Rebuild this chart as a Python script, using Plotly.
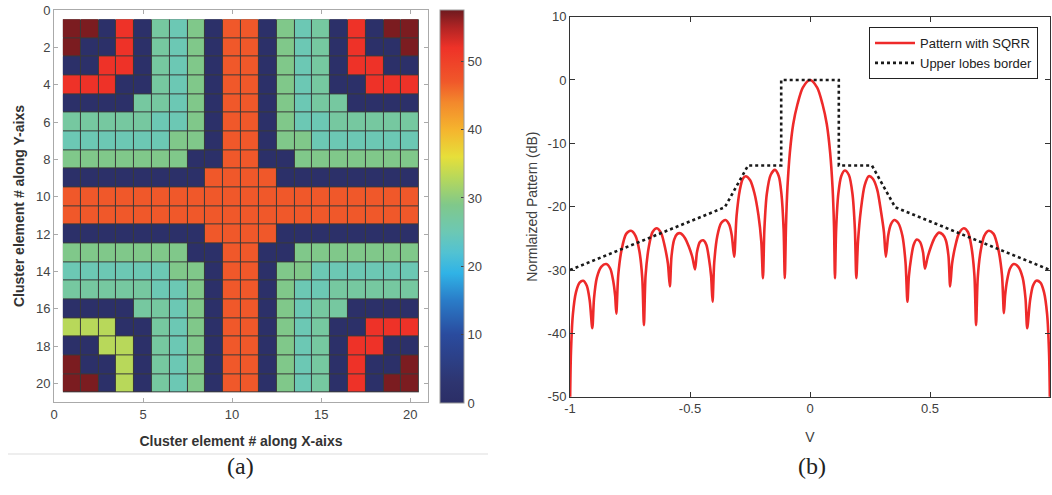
import plotly.graph_objects as go

# ---------------- Data: panel (a) cluster map ----------------
level_codes = ["N", "T", "M", "G", "Y", "O", "R", "D"]
level_values = [1, 25, 27, 29, 33, 47, 52, 57]

cluster_rows = [
    "DDNRNMTGNOONGTMNRNDD",
    "DNNRNMTGNOONGTMNRNND",
    "NNRRNMTGNOONGTMNRRNN",
    "RRRNNMTGNOONGTMNNRRR",
    "NNNNMMTGNOONGTMMNNNN",
    "MMMMMTTGNOONGTTMMMMM",
    "TTTTTTGGNOONGGTTTTTT",
    "GGGGGGGNNOONNGGGGGGG",
    "NNNNNNNNOOOONNNNNNNN",
    "OOOOOOOOOOOOOOOOOOOO",
    "OOOOOOOOOOOOOOOOOOOO",
    "NNNNNNNNOOOONNNNNNNN",
    "GGGGGGGNNOONNGGGGGGG",
    "TTTTTTGGNOONGGTTTTTT",
    "MMMMMTTGNOONGTTMMMMM",
    "NNNNMMTGNOONGTMMNNNN",
    "YYYNNMTGNOONGTMNNRRR",
    "NNYYNMTGNOONGTMNRRNN",
    "DNNYNMTGNOONGTMNRNND",
    "DDNYNMTGNOONGTMNRNDD",
]
x_elements = list(range(1, 21))
y_elements = list(range(1, 21))
cbar_ticks = [0, 10, 20, 30, 40, 50]
xa_ticks = [0, 5, 10, 15, 20]
ya_ticks = [0, 2, 4, 6, 8, 10, 12, 14, 16, 18, 20]

# ---------------- Data: panel (b) pattern ----------------
v_pattern = [
    -1.0, -0.996, -0.988, -0.975, -0.96, -0.945, -0.93, -0.918, -0.907,
    -0.900, -0.888, -0.870, -0.849, -0.832, -0.820, -0.812, -0.807,
    -0.799, -0.785, -0.766, -0.746, -0.727, -0.711, -0.699, -0.692,
    -0.685, -0.671, -0.656, -0.638, -0.620, -0.605, -0.592, -0.584,
    -0.577, -0.566, -0.553, -0.540, -0.522, -0.505, -0.490, -0.479,
    -0.471, -0.459, -0.445, -0.432, -0.421, -0.412, -0.406,
    -0.399, -0.386, -0.370, -0.352, -0.337, -0.326, -0.316,
    -0.306, -0.292, -0.280, -0.268, -0.250, -0.232, -0.215, -0.203, -0.196,
    -0.190, -0.180, -0.164, -0.146, -0.130, -0.119, -0.110, -0.105,
    -0.100, -0.094, -0.084, -0.070, -0.052, -0.030, 0.0,
    0.030, 0.052, 0.070, 0.084, 0.094, 0.100, 0.104,
    0.109, 0.118, 0.130, 0.145, 0.162, 0.177, 0.187, 0.193,
    0.200, 0.212, 0.228, 0.245, 0.262, 0.280, 0.296, 0.308, 0.316,
    0.326, 0.337, 0.351, 0.368, 0.385, 0.398, 0.406,
    0.412, 0.421, 0.432, 0.445, 0.459, 0.471, 0.479,
    0.490, 0.505, 0.521, 0.537, 0.553, 0.566, 0.577, 0.584,
    0.592, 0.605, 0.621, 0.641, 0.658, 0.672, 0.685, 0.692,
    0.699, 0.711, 0.726, 0.745, 0.765, 0.785, 0.800, 0.808,
    0.813, 0.821, 0.833, 0.849, 0.868, 0.886, 0.898, 0.905,
    0.917, 0.929, 0.943, 0.960, 0.975, 0.988, 0.996, 1.0,
]
db_pattern = [
    -52.0, -43.0, -37.0, -33.5, -32.0, -31.7, -32.5, -34.8, -39.2,
    -34.5, -31.2, -29.5, -29.05, -29.8, -31.7, -34.0, -36.9,
    -30.8, -26.8, -24.3, -23.8, -24.6, -27.0, -31.2, -38.7,
    -30.8, -26.2, -24.0, -23.4, -24.2, -26.3, -29.0, -32.6,
    -27.8, -25.2, -24.3, -24.2, -24.9, -26.3, -28.0, -29.9,
    -27.2, -25.6, -25.3, -26.0, -28.2, -31.0, -35.0,
    -28.8, -24.6, -22.6, -22.1, -22.8, -24.5, -27.9,
    -21.5, -17.3, -15.6, -15.2, -15.8, -17.8, -21.3, -25.5, -31.3,
    -23.5, -18.0, -15.0, -14.2, -15.2, -18.0, -23.5, -31.3,
    -23.0, -17.0, -11.5, -7.0, -3.8, -1.2, 0.0,
    -1.2, -3.8, -7.0, -11.5, -17.0, -23.0, -31.3,
    -23.5, -18.0, -15.2, -14.3, -15.0, -18.0, -23.5, -31.3,
    -25.5, -20.5, -16.6, -15.2, -15.6, -17.3, -20.8, -24.0, -27.9,
    -24.5, -22.8, -22.1, -22.6, -24.6, -28.8, -35.0,
    -31.0, -28.2, -26.0, -25.2, -25.6, -27.2, -29.8,
    -28.0, -26.2, -24.8, -24.1, -24.4, -25.3, -27.8, -32.6,
    -29.0, -26.3, -24.2, -23.4, -24.0, -26.2, -30.8, -38.7,
    -31.2, -27.0, -24.6, -23.8, -24.3, -26.8, -30.8, -36.8,
    -34.0, -31.7, -29.8, -29.05, -29.5, -31.2, -34.5, -39.2,
    -34.8, -32.5, -31.7, -32.0, -33.5, -37.0, -43.0, -52.0,
]
v_border = [-1.0, -0.355, -0.258, -0.12, -0.12, 0.12, 0.12, 0.258, 0.355, 1.0]
db_border = [-30.0, -20.1, -13.5, -13.5, 0.0, 0.0, -13.5, -13.5, -20.1, -30.0]
xb_ticks = [-1, -0.5, 0, 0.5, 1]
xb_labels = ["-1", "-0.5", "0", "0.5", "1"]
yb_ticks = [10, 0, -10, -20, -30, -40, -50]
yb_labels = ["10", "0", "-10", "-20", "-30", "-40", "-50"]

# ---------------- Styling ----------------
W, H = 1052, 495
ZMAX = 57.5
scale_pts = [
    (0, "#2B2E66"), (3, "#2E3570"), (10, "#2A4B9E"), (15, "#2A7CC8"),
    (19, "#30B3E6"), (22, "#52C2D2"), (25, "#6CC8B4"), (27, "#76C8A0"),
    (29, "#80C88A"), (33, "#B8D85A"), (36, "#E6DF3A"), (40, "#F5B42E"),
    (44, "#F3882C"), (47, "#F0582A"), (52, "#EE3228"), (55, "#B02424"),
    (57.5, "#6E1A1F"),
]
colorscale = [[v / ZMAX, c] for v, c in scale_pts]

code_to_val = dict(zip(level_codes, level_values))
z = [[code_to_val[ch] for ch in row] for row in cluster_rows]


def px_x(p):
    return p / W


def px_y(p):
    return (H - p) / H


SANS = "Liberation Sans, Arial, sans-serif"
SERIF = "Liberation Serif, Times New Roman, serif"
fig = go.Figure()

# dark background grid (cell borders)
fig.add_trace(go.Heatmap(
    z=[[0] * len(x_elements) for _ in y_elements], x=x_elements, y=y_elements,
    colorscale=[[0, "#3a3a3a"], [1, "#3a3a3a"]], showscale=False,
    xaxis="x", yaxis="y", hoverinfo="skip",
))
fig.add_trace(go.Heatmap(
    z=z, x=x_elements, y=y_elements, zmin=0, zmax=ZMAX,
    colorscale=colorscale, xgap=1, ygap=1, xaxis="x", yaxis="y",
    colorbar=dict(
        x=px_x(440), xanchor="left", thickness=24, thicknessmode="pixels",
        y=px_y((10 + 403) / 2), yanchor="middle", len=393 / H, lenmode="fraction",
        tickvals=cbar_ticks, ticks="inside", ticklen=3, tickcolor="#444",
        outlinewidth=1, outlinecolor="#999", xpad=0, ypad=0,
        tickfont=dict(family=SANS, size=13, color="#444"),
    ),
))

fig.add_trace(go.Scatter(
    x=v_pattern, y=db_pattern, mode="lines", name="Pattern with SQRR",
    line=dict(color="#EE2A2A", width=2.6, shape="spline", smoothing=0.8),
    xaxis="x2", yaxis="y2",
))
fig.add_trace(go.Scatter(
    x=v_border, y=db_border, mode="lines", name="Upper lobes border",
    line=dict(color="#1a1a1a", width=2.6, dash="dot"), xaxis="x2", yaxis="y2",
))

axis_a = dict(showgrid=False, zeroline=False, showline=True, linecolor="#aaaaaa",
              linewidth=1, mirror="allticks", ticks="inside", ticklen=4,
              tickcolor="#aaaaaa", automargin=False,
              tickfont=dict(family=SANS, size=13, color="#444"))
axis_b = dict(showgrid=False, zeroline=False, showline=True, linecolor="#333",
              linewidth=1, mirror="allticks", ticks="inside", ticklen=5,
              tickcolor="#333", automargin=False,
              tickfont=dict(family=SANS, size=13, color="#404040"))

fig.update_layout(
    width=W, height=H, margin=dict(l=0, r=0, t=0, b=0, autoexpand=False),
    paper_bgcolor="white", plot_bgcolor="white",
    showlegend=True,
    legend=dict(x=px_x(869), y=px_y(27), xanchor="left", yanchor="top",
                bgcolor="white", bordercolor="#222", borderwidth=1,
                font=dict(family=SANS, size=13, color="#222"),
                tracegroupgap=0, itemwidth=40),
    xaxis=dict(axis_a, domain=[px_x(54), px_x(428)], range=[0, 21],
               tickvals=xa_ticks, anchor="y",
               title=dict(text="<b>Cluster element # along X-aixs</b>",
                          font=dict(family=SANS, size=14, color="#333"), standoff=15)),
    yaxis=dict(axis_a, domain=[px_y(402), px_y(10)], range=[21, 0],
               tickvals=ya_ticks, anchor="x",
               title=dict(text="<b>Cluster element # along Y-aixs</b>",
                          font=dict(family=SANS, size=14, color="#333"), standoff=8)),
    xaxis2=dict(axis_b, domain=[px_x(570), px_x(1050)], range=[-1, 1],
                tickvals=xb_ticks, ticktext=xb_labels, anchor="y2",
                title=dict(text="V", font=dict(family=SANS, size=14, color="#404040"),
                           standoff=16)),
    yaxis2=dict(axis_b, domain=[px_y(396.7), px_y(16.6)], range=[-50, 10],
                tickvals=yb_ticks, ticktext=yb_labels, anchor="x2",
                title=dict(text="Normlaized Pattern (dB)",
                           font=dict(family=SANS, size=14, color="#404040"), standoff=6)),
    annotations=[
        dict(text="(a)", x=px_x(240), y=px_y(466), xref="paper", yref="paper",
             xanchor="center", yanchor="middle", showarrow=False,
             font=dict(family=SERIF, size=24, color="#222")),
        dict(text="(b)", x=px_x(812), y=px_y(466), xref="paper", yref="paper",
             xanchor="center", yanchor="middle", showarrow=False,
             font=dict(family=SERIF, size=24, color="#222")),
    ],
    shapes=[
        dict(type="line", xref="paper", yref="paper", x0=px_x(8), x1=px_x(488),
             y0=px_y(454), y1=px_y(454), line=dict(color="#dddddd", width=1)),
    ],
)

fig.write_html(
    "out.html",
    config={"displayModeBar": False},
    post_script="document.body.style.margin='0px';document.body.style.overflow='hidden';",
)
